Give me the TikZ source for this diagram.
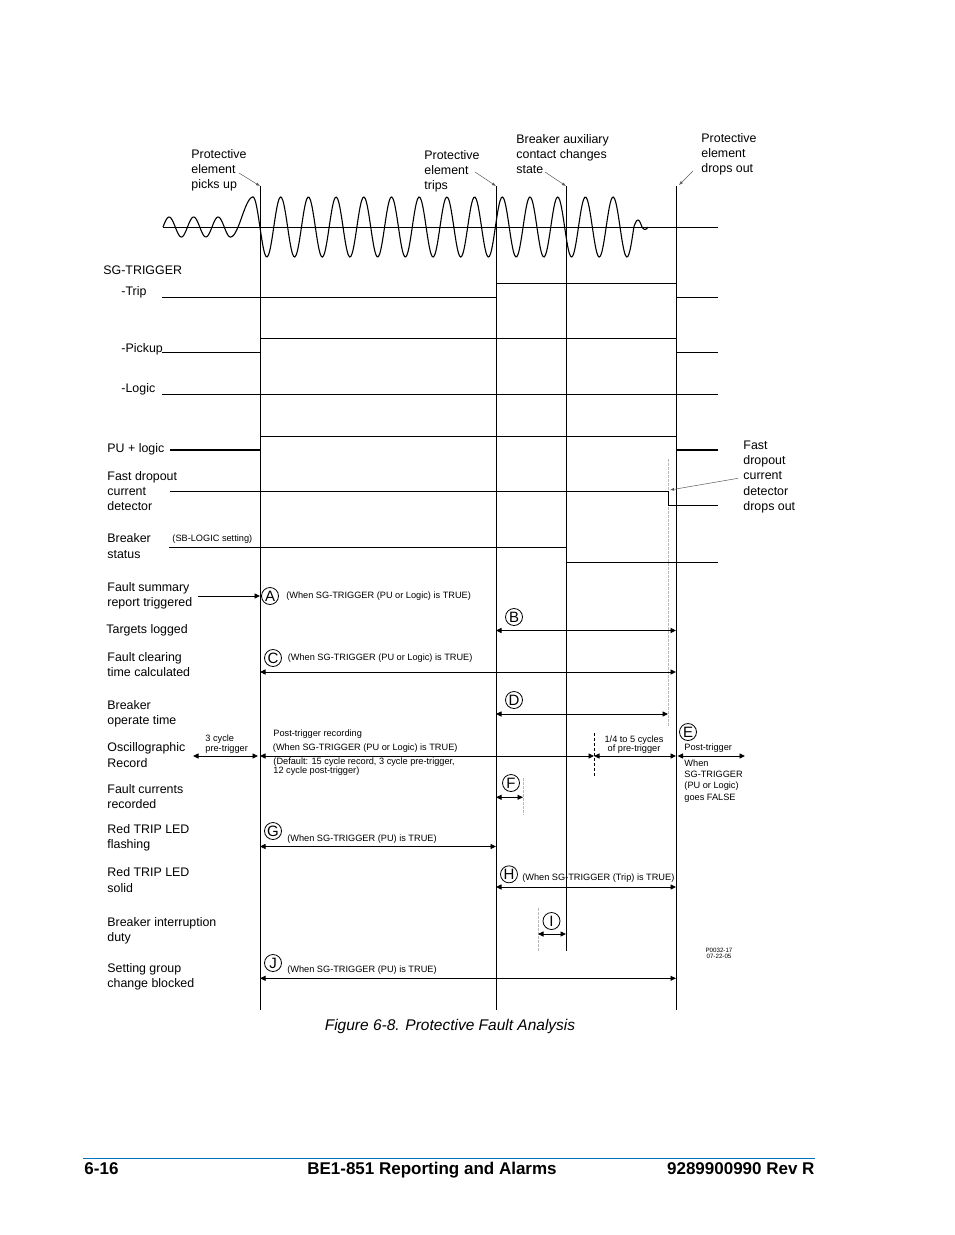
\documentclass[tikz,border=0pt]{standalone}
\usepackage{fontspec}
\setmainfont{Liberation Sans}
\usetikzlibrary{arrows.meta,positioning,calc}
\definecolor{footerblue}{RGB}{0,112,192}
\newcommand{\siglabelsize}{\fontsize{12.4}{15.2}\selectfont}
\newcommand{\notesize}{\fontsize{9.2}{8.6}\selectfont}
\newcommand{\stampsize}{\fontsize{6.2}{6.8}\selectfont}
\newcommand{\footsize}{\fontsize{17}{19}\selectfont\bfseries}
\tikzset{
  siglabel/.style={anchor=west, inner sep=0pt, align=left, font=\siglabelsize},
  note/.style={anchor=west, inner sep=0pt, align=left, font=\notesize},
  letter/.style={circle, draw, line width=0.8pt, minimum size=17pt, inner sep=0pt,
                 font=\fontsize{15}{15}\selectfont},
  spanarrow/.style={{Triangle[length=5.5pt,width=5pt]}-{Triangle[length=5.5pt,width=5pt]}},
  onehead/.style={-{Triangle[length=5.5pt,width=5pt]}},
  callout/.style={draw=gray!70!black, line width=0.5pt, -{Latex[length=4pt,width=3pt]}},
  guide/.style={draw=gray!55, line width=0.7pt, dash pattern=on 2.5pt off 1.5pt},
  cut/.style={line width=0.7pt, dash pattern=on 3pt off 2pt},
  heavy/.style={line width=2.6pt},
  footer/.style={anchor=base, inner sep=0pt, font=\footsize},
}

\begin{document}
\begin{tikzpicture}[x=1pt, y=-1pt, line width=0.9pt]
\useasboundingbox (0,0) rectangle (954,1235);

% event lines
\coordinate (pu-t) at (260,186);   \coordinate (pu-b) at (260,1010);
\coordinate (tr-t) at (496,186);   \coordinate (tr-b) at (496,1010);
\coordinate (aux-t) at (566,186);  \coordinate (aux-b) at (566,951);
\coordinate (do-t) at (676,186);   \coordinate (do-b) at (676,1010);
\coordinate (fd-t) at (668,459);   \coordinate (fd-b) at (668,727);
\coordinate (pre-t) at (594,733);  \coordinate (pre-b) at (594,777);
\coordinate (fc-t) at (523,778);   \coordinate (fc-b) at (523,815);
\coordinate (bi-t) at (538,908);   \coordinate (bi-b) at (538,951);
\foreach \t/\b in {pu-t/pu-b, tr-t/tr-b, aux-t/aux-b, do-t/do-b}
  \draw (\t) -- (\b);
\draw[guide] (fd-t) -- (fd-b);
\draw[guide] (fc-t) -- (fc-b);
\draw[guide] (bi-t) -- (bi-b);
\draw[cut] (pre-t) -- (pre-b);

% current waveform
\draw (163,227) -- (718,227);
\draw[line width=1.1pt]
  plot[domain=163:230.6, samples=60, smooth] (\x,{227-10*sin((360/24.5)*(\x-163))})
  -- plot[domain=230.6:253, samples=15, smooth] (\x,{217+20*cos((180/22.4)*(\x-230.6))})
  -- plot[domain=253:633.8, samples=320, smooth] (\x,{227-30*cos((360/27.7)*(\x-253))})
  -- plot[domain=633.8:642, samples=10, smooth] (\x,{227-7*sin((180/8.2)*(\x-633.8))})
  -- plot[domain=642:648, samples=8, smooth] (\x,{227+2.5*sin(30*(\x-642))});

% event labels
\node[siglabel] (picksup) at (191,170) {Protective\\element\\picks up};
\node[siglabel] (trips) at (424,171) {Protective\\element\\trips};
\node[siglabel] (auxchg) at (516,154) {Breaker auxiliary\\contact changes\\state};
\node[siglabel] (dropsout) at (701,154) {Protective\\element\\drops out};
\node[siglabel] (fastlbl) at (743,477) {Fast\\dropout\\current\\detector\\drops out};
\draw[callout] ($(picksup.west)+(48,3)$) -- (pu-t);
\draw[callout] ($(trips.west)+(51,1)$) -- (tr-t);
\draw[callout] ($(auxchg.west)+(29,18)$) -- (aux-t);
\draw[callout] ($(dropsout.west)+(-8,17)$) -- ($(do-t)+(3,-1)$);
\draw[callout] ($(fastlbl.west)+(-5,1.3)$) -- ($(fd-t)+(2,31)$);

% signal traces
\draw (162,297) -- (496,297);  \draw (496,283) -- (676,283);  \draw (676,297) -- (718,297);
\draw (162,352.5) -- (260,352.5);  \draw (260,338.5) -- (676,338.5);  \draw (676,352) -- (718,352);
\draw (162,394) -- (718,394);
\draw[heavy] (170,450) -- (260,450);  \draw (260,436) -- (676,436);  \draw[heavy] (676,450) -- (718,450);
\draw (170,491) -- (668,491) -- (668,505) -- (718,505);
\draw (169,547) -- (566,547) -- (566,562) -- (718,562);

% row labels
\node[siglabel] (sgtrig) at (103,270) {SG-TRIGGER};
\node[siglabel] (trip) at (121,292) {-Trip};
\node[siglabel] (pickup) at (121,349) {-Pickup};
\node[siglabel] (logic) at (121,389) {-Logic};
\node[siglabel] (pulogic) at (107,449) {PU + logic};
\node[siglabel] (fastdo) at (107,491) {Fast dropout\\current\\detector};
\node[siglabel] (brkstat) at (107,546) {Breaker\\status};
\node[siglabel] (fsum) at (107,595.5) {Fault summary\\report triggered};
\node[siglabel] (targets) at (106,630) {Targets logged};
\node[siglabel] (fclear) at (107,664.5) {Fault clearing\\time calculated};
\node[siglabel] (bop) at (107,713.5) {Breaker\\operate time};
\node[siglabel] (osc) at (107,755) {Oscillographic\\Record};
\node[siglabel] (fcur) at (107,796.5) {Fault currents\\recorded};
\node[siglabel] (ledfl) at (107,838) {Red TRIP LED\\flashing};
\node[siglabel] (ledsol) at (107,880) {Red TRIP LED\\solid};
\node[siglabel] (bint) at (107,931) {Breaker interruption\\duty};
\node[siglabel] (sgblk) at (107,977) {Setting group\\change blocked};
\node[note] (sbnote) at (172,539.5) {(SB-LOGIC setting)};

% fault summary
\coordinate (fsum-s) at (198,596);
\draw[onehead] (fsum-s) -- (pu-t |- fsum-s);
\node[letter] (A) at (270,596) {A};
\node[note, right=7pt of A] (A-note) {(When SG-TRIGGER (PU or Logic) is TRUE)};

% targets, clearing time, operate time
\node[letter] (B) at (514,617) {B};
\draw[spanarrow] (tr-t |- 0,630.5) -- (do-t |- 0,630.5);
\node[letter] (C) at (273,658) {C};
\node[note, right=5.5pt of C] (C-note) {(When SG-TRIGGER (PU or Logic) is TRUE)};
\draw[spanarrow] (pu-t |- 0,672) -- (do-t |- 0,672);
\node[letter] (D) at (514,700) {D};
\draw[spanarrow] (tr-t |- 0,714) -- (fd-t |- 0,714);

% oscillographic record
\coordinate (pre-s) at (193,756);
\coordinate (post-e) at (745,756);
\draw[spanarrow, shorten >=2pt] (pre-s) -- (pu-t |- pre-s);
\draw[spanarrow] (pu-t |- pre-s) -- (pre-t |- pre-s);
\draw[spanarrow] (pre-t |- pre-s) -- (do-t |- pre-s);
\draw[spanarrow, shorten <=1.5pt] (do-t |- pre-s) -- (post-e);
\node[note, font=\fontsize{9.2}{8.3}\selectfont] (pre-note) at (205,744) {3 cycle\\pre-trigger};
\node[note] (postrec) at (273,734) {Post-trigger recording};
\node[note] (osc-when) at (272.5,748.3) {(When SG-TRIGGER (PU or Logic) is TRUE)};
\node[note, font=\fontsize{9.2}{7.4}\selectfont] (osc-default) at (273,766.7)
  {(Default: 15 cycle record, 3 cycle pre-trigger,\\12 cycle post-trigger)};
\node[note, anchor=center, align=center, font=\fontsize{9.2}{9.3}\selectfont] (quarter) at (634,744.7)
  {1/4 to 5 cycles\\of pre-trigger};
\node[letter] (E) at (688,732) {E};
\node[note] (posttrig) at (684,747.7) {Post-trigger};
\node[note, font=\fontsize{9.2}{11.2}\selectfont] (goesfalse) at (684,781)
  {When\\SG-TRIGGER\\(PU or Logic)\\goes FALSE};

% fault currents, LEDs, interruption duty, setting group
\node[letter] (F) at (511,783) {F};
\draw[spanarrow] (tr-t |- 0,797.3) -- (fc-t |- 0,797.3);
\node[letter] (G) at (273,831) {G};
\node[note, right=5pt of G, yshift=-8pt] (G-note) {(When SG-TRIGGER (PU) is TRUE)};
\draw[spanarrow] (pu-t |- 0,846.5) -- (tr-t |- 0,846.5);
\node[letter] (H) at (509,874.3) {H};
\node[note, right=4pt of H, yshift=-4.3pt] (H-note) {(When SG-TRIGGER (Trip) is TRUE)};
\draw[spanarrow] (tr-t |- 0,887) -- (do-t |- 0,887);
\node[letter] (I) at (551.5,921) {I};
\draw[spanarrow] (bi-t |- 0,934) -- (aux-t |- 0,934);
\node[letter] (J) at (273,963) {J};
\node[note, right=5pt of J, yshift=-7pt] (J-note) {(When SG-TRIGGER (PU) is TRUE)};
\draw[spanarrow] (pu-t |- 0,978.3) -- (do-t |- 0,978.3);
\node[align=center, inner sep=0pt, font=\stampsize] (stamp) at (719,953.3) {P0032-17\\07-22-05};

% caption and page footer
\node[inner sep=0pt, font=\fontsize{15.5}{18}\selectfont\itshape] (caption) at (450,1026)
  {Figure 6-8. Protective Fault Analysis};
\coordinate (rule-l) at (83,1158);
\coordinate (rule-r) at (815,1158);
\draw[footerblue, line width=1pt] (rule-l) -- (rule-r);
\node[footer, anchor=base west] (pageno) at (84,1174.5) {6-16};
\node[footer] (doctitle) at (432,1174.5) {BE1-851 Reporting and Alarms};
\node[footer, anchor=base east] (docno) at (815,1174.5) {9289900990 Rev R};
\end{tikzpicture}
\end{document}
